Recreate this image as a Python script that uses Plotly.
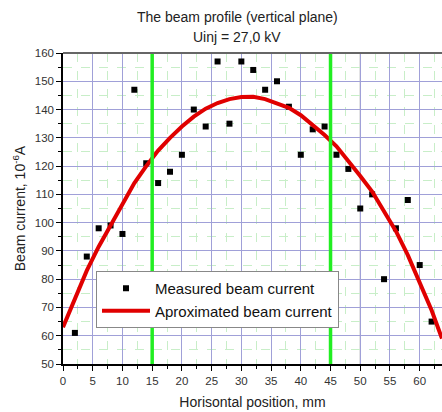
import plotly.graph_objects as go

# Measured beam current
pos_mm = [2, 4, 6, 8, 10, 12, 14, 16, 18, 20, 22, 24, 26, 28, 30, 32,
          34, 36, 38, 40, 42, 44, 46, 48, 50, 52, 54, 56, 58, 60, 62]
current = [61, 88, 98, 99, 96, 147, 121, 114, 118, 124, 140, 134, 157, 135, 157, 154,
           147, 150, 141, 124, 133, 134, 124, 119, 105, 110, 80, 98, 108, 85, 65]

# Approximated beam current (fit curve)
fit_x = [0, 2, 4, 6, 8, 10, 12, 14, 16, 18, 20, 22, 24, 26, 28, 30, 32, 34,
         36, 38, 40, 42, 44, 46, 48, 50, 52, 54, 56, 58, 60, 62, 63.75]
fit_y = [63, 73, 83, 91.5, 99.2, 107, 114, 120, 125.5, 130, 134, 137.5, 140.3, 142.3,
         143.7, 144.4, 144.5, 143.7, 142.3, 140.6, 138, 134.5, 131, 127, 122, 116.5,
         111, 104, 97, 88.5, 79, 69, 59]

# Vertical marker lines
marker_lines = [15, 45]

title_lines = ["The beam profile (vertical plane)", "Uinj = 27,0 kV"]

fig = go.Figure()
fig.add_trace(go.Scatter(x=pos_mm, y=current, mode="markers", name="Measured beam current",
                         marker=dict(symbol="square", size=6, color="black")))
fig.add_trace(go.Scatter(x=fit_x, y=fit_y, mode="lines", name="Aproximated beam current",
                         line=dict(color="#e00000", width=4)))

for xv in marker_lines:
    fig.add_shape(type="line", x0=xv, x1=xv, y0=50, y1=160, xref="x", yref="y",
                  line=dict(color="#22ee22", width=3.5), layer="above")

# slightly grey line at x=50
fig.add_shape(type="line", x0=50, x1=50, y0=50, y1=160, xref="x", yref="y",
              line=dict(color="#c8c8cc", width=1.5), layer="below")

# title lines as annotations
for txt, py in zip(title_lines, [17, 37]):
    fig.add_annotation(text=txt, x=(237 - 63) / 379, xref="paper", xanchor="center",
                       y=(364 - py) / 311, yref="paper", yanchor="middle",
                       showarrow=False, font=dict(size=14, color="#222"))

font_fam = "Liberation Sans, Arial, sans-serif"
fig.update_layout(
    width=442, height=412,
    margin=dict(l=63, r=0, t=53, b=48),
    paper_bgcolor="white", plot_bgcolor="white",
    font=dict(family=font_fam, color="#222", size=14),
    showlegend=True,
    legend=dict(x=(96-63)/379, y=(364-271)/311, xanchor="left", yanchor="top",
                bgcolor="white", bordercolor="#888", borderwidth=1,
                font=dict(size=15, color="#111"), tracegroupgap=0,
                itemwidth=48),
    xaxis=dict(range=[0, 63.75], dtick=5, tick0=0, showgrid=True,
               gridcolor="#a0a0d8", gridwidth=1,
               minor=dict(dtick=2.5, showgrid=True, gridcolor="#c8eec8", griddash="dash",
                          ticks="outside", ticklen=3, tickcolor="black"),
               ticks="outside", ticklen=5, tickcolor="black",
               showline=True, linecolor="black", linewidth=1.5, mirror=False,
               zeroline=False, tickfont=dict(size=11.5, color="#333"),
               title=dict(text="Horisontal position, mm", font=dict(size=14), standoff=12)),
    yaxis=dict(range=[50, 160], dtick=10, tick0=50, showgrid=True,
               gridcolor="#a0a0d8", gridwidth=1,
               minor=dict(dtick=5, showgrid=True, gridcolor="#c8eec8", griddash="dash",
                          ticks="outside", ticklen=3, tickcolor="black"),
               ticks="outside", ticklen=5, tickcolor="black",
               showline=True, linecolor="black", linewidth=1.5, mirror=False,
               zeroline=False, tickfont=dict(size=11.5, color="#333"),
               title=dict(text="Beam current, 10<sup>-6</sup>A", font=dict(size=14), standoff=6)),
)

# top border line
fig.add_shape(type="line", x0=0, x1=1, y0=1, y1=1, xref="paper", yref="paper",
              line=dict(color="#666", width=2))

fig.write_html("out.html", config={"displayModeBar": False},
               post_script="document.body.style.margin='0';document.body.style.padding='0';")
